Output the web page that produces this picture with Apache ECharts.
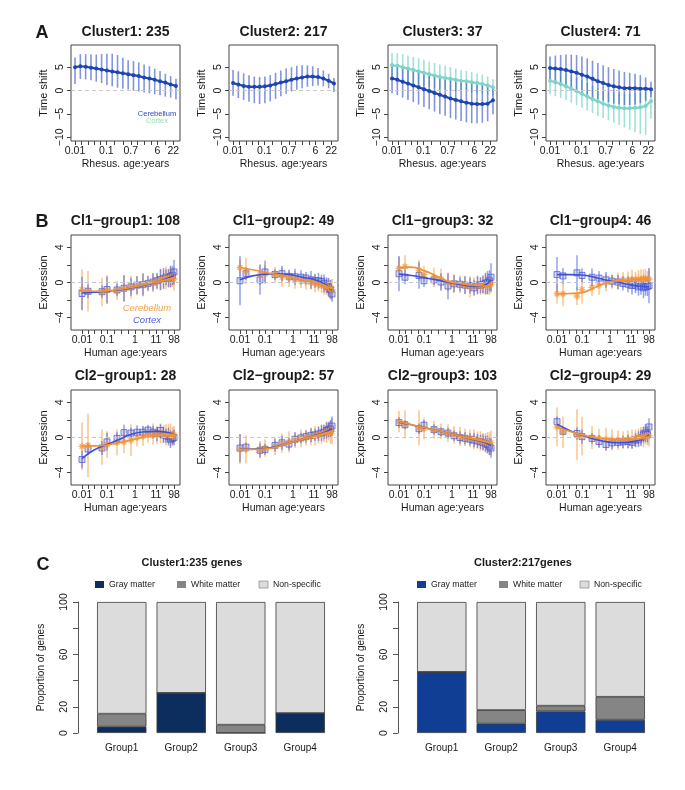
<!DOCTYPE html>
<html><head><meta charset="utf-8">
<script src="https://cdn.jsdelivr.net/npm/echarts@6/dist/echarts.min.js"></script>
<style>html,body{margin:0;padding:0;background:#fff}#c{width:685px;height:790px}</style>
</head><body><div id="c"></div><script>
// ---------------- Panel A (rhesus time shift) ----------------
const aX = [0,1,2,3,4,5,6,7,8,9,10,11,12,13,14,15,16,17,18,19];
const aTickPos = [0,1.2,2.4,3.6,4.8,5.9,7.4,9.0,10.5,11.8,13.0,14.3,15.5,17.0,18.5];
const aLabelPos = [0,5.9,10.5,15.5,18.5];
const aLabelText = ['0.01','0.1','0.7','6','22'];
const aTitles = ['Cluster1: 235','Cluster2: 217','Cluster3: 37','Cluster4: 71'];

const c1CbMean = [5.0,5.2,5.1,4.9,4.7,4.5,4.3,4.1,3.9,3.7,3.5,3.3,3.1,2.8,2.6,2.3,2.0,1.7,1.3,1.0];
const c1CbHi   = [7.1,7.8,7.8,7.7,7.7,7.8,7.9,7.9,7.6,7.0,6.5,6.3,6.0,5.6,5.2,4.7,4.2,3.6,3.1,2.5];
const c1CbLo   = [1.4,2.5,2.4,2.2,1.9,1.6,1.2,0.9,0.6,0.4,0.2,0.0,-0.2,-0.4,-0.6,-0.8,-1.0,-1.3,-1.5,-1.9];

const c2CbMean = [1.6,1.3,1.0,0.8,0.8,0.8,0.9,1.1,1.4,1.7,2.0,2.3,2.6,2.8,3.0,3.0,2.9,2.6,2.1,1.5];
const c2CbHi   = [4.4,4.1,3.7,3.3,3.0,2.9,3.0,3.3,3.8,4.3,4.7,5.0,5.3,5.4,5.4,5.2,4.8,4.3,3.6,2.7];
const c2CbLo   = [-1.1,-1.6,-2.0,-2.4,-2.7,-2.9,-2.7,-2.3,-1.8,-1.2,-0.7,-0.2,0.2,0.5,0.8,1.0,1.1,0.9,0.5,-0.3];

const c3CtxMean = [5.4,5.3,5.0,4.7,4.4,4.1,3.8,3.5,3.2,2.9,2.7,2.5,2.3,2.1,2.0,1.8,1.6,1.4,1.1,0.7];
const c3CtxHi   = [8.0,8.0,7.8,7.5,7.2,6.9,6.6,6.2,5.9,5.6,5.3,5.0,4.7,4.4,4.2,4.0,3.7,3.4,3.0,2.4];
const c3CtxLo   = [2.8,2.6,2.2,1.9,1.6,1.3,1.0,0.8,0.5,0.2,0.1,0.0,-0.1,-0.2,-0.2,-0.4,-0.5,-0.6,-0.8,-1.0];
const c3CbMean  = [2.6,2.3,1.9,1.5,1.1,0.7,0.3,-0.1,-0.5,-0.9,-1.3,-1.7,-2.0,-2.3,-2.6,-2.8,-2.9,-2.9,-2.8,-2.1];
const c3CbHi    = [5.8,5.6,5.3,5.0,4.7,4.4,4.1,3.8,3.5,3.2,2.8,2.5,2.2,1.9,1.6,1.4,1.2,1.1,1.0,0.9];
const c3CbLo    = [-0.6,-1.0,-1.5,-2.0,-2.5,-3.0,-3.5,-4.0,-4.5,-5.0,-5.4,-5.9,-6.2,-6.5,-6.8,-7.0,-7.0,-6.9,-6.6,-5.1];

const c4CbMean  = [4.8,4.7,4.6,4.4,4.1,3.8,3.4,3.0,2.5,2.0,1.6,1.2,0.9,0.7,0.5,0.5,0.5,0.4,0.4,0.3];
const c4CbHi    = [7.3,7.5,7.6,7.7,7.7,7.6,7.3,6.9,6.4,5.9,5.4,5.0,4.6,4.3,4.0,3.8,3.6,3.3,2.8,1.9];
const c4CbLo    = [2.0,1.8,1.5,1.1,0.6,0.1,-0.4,-0.9,-1.4,-1.8,-2.2,-2.5,-2.8,-3.0,-3.1,-3.1,-3.0,-2.7,-2.2,-1.4];
const c4CtxMean = [2.1,1.8,1.4,0.9,0.4,-0.1,-0.7,-1.3,-1.8,-2.3,-2.8,-3.2,-3.5,-3.7,-3.8,-3.8,-3.7,-3.6,-3.3,-2.3];
const c4CtxHi   = [5.0,4.7,4.3,3.8,3.3,2.8,2.2,1.6,1.0,0.5,0.1,-0.2,-0.4,-0.6,-0.6,-0.6,-0.5,-0.4,-0.2,0.4];
const c4CtxLo   = [-0.8,-1.2,-1.6,-2.1,-2.6,-3.1,-3.7,-4.3,-4.8,-5.4,-5.9,-6.4,-6.9,-7.4,-7.9,-8.4,-8.9,-9.3,-9.5,-6.0];

// ---------------- Panel B (human expression) ----------------
const bX = [-2.0,-1.76,-1.2,-1.0,-0.6,-0.32,-0.04,0.2,0.44,0.64,0.84,1.0,1.14,1.26,1.36,1.46,1.54,1.62,1.68];
const bFitX = [-2.0,-1.5,-1.0,-0.5,0.0,0.5,1.0,1.4,1.68];
const bTickPos = [-2,-1.75,-1.5,-1.25,-1,-0.72,-0.44,-0.16,0.12,0.4,0.68,0.96,1.2,1.44,1.68];
const bLabelPos = [-2,-1,0.12,0.96,1.68];
const bLabelText = ['0.01','0.1','1','11','98'];
const bTitles = ['Cl1\u2212group1: 108','Cl1\u2212group2: 49','Cl1\u2212group3: 32','Cl1\u2212group4: 46',
                 'Cl2\u2212group1: 28','Cl2\u2212group2: 57','Cl2\u2212group3: 103','Cl2\u2212group4: 29'];

const b1Ctx = [-1.25,-1.0,-1.05,-0.8,-0.85,-0.65,-0.5,-0.3,-0.25,-0.1,0.05,0.2,0.35,0.45,0.6,0.5,0.7,0.8,1.2];
const b1Cb  = [-0.8,-1.0,-1.1,-0.9,-0.9,-0.7,-0.5,-0.35,-0.2,-0.1,0.0,0.1,0.3,0.4,0.5,0.5,0.6,0.5,0.4];
const b1CtxErr = [1.9,0.8,0.7,1.6,0.7,1.5,1.0,1.0,1.3,0.8,1.0,0.9,1.2,1.2,0.9,1.0,1.2,1.1,1.4];
const b1CbErr  = [2.3,2.3,1.6,1.5,1.1,1.5,1.3,1.1,1.2,0.9,1.1,0.9,1.2,1.0,1.3,1.1,1.2,1.0,1.3];
const b1CtxFit = [-1.2,-1.1,-1.0,-0.85,-0.6,-0.3,0.05,0.45,0.8];
const b1CbFit  = [-0.95,-1.0,-0.95,-0.8,-0.55,-0.25,0.05,0.35,0.55];

const b2Ctx = [0.2,1.0,0.3,1.2,0.9,1.0,0.7,0.65,0.6,0.5,0.3,0.2,0.2,0.1,-0.1,-0.3,-0.5,-0.8,-1.3];
const b2Cb  = [1.7,1.3,0.9,0.95,0.9,0.6,0.5,0.3,0.15,0.1,0.0,-0.1,-0.2,-0.3,-0.4,-0.5,-0.6,-0.7,-0.8];
const b2CtxErr = [2.8,0.7,1.7,1.3,0.6,0.9,0.7,0.9,0.8,0.7,1.0,0.8,0.9,0.8,1.0,0.9,1.0,1.1,0.9];
const b2CbErr  = [1.0,1.5,1.2,1.0,0.9,1.1,1.0,1.0,0.8,0.9,0.8,1.0,0.8,0.9,1.0,0.9,1.1,1.0,1.2];
const b2CtxFit = [0.3,0.75,0.95,1.0,0.9,0.6,0.3,-0.2,-0.9];
const b2CbFit  = [1.7,1.45,1.15,0.9,0.65,0.35,0.05,-0.35,-0.75];

const b3Ctx = [1.0,0.6,0.8,0.2,0.3,0.05,-0.4,-0.15,-0.2,-0.3,-0.35,-0.6,-0.3,-0.3,-0.2,-0.1,0.0,0.2,0.6];
const b3Cb  = [1.6,1.8,1.4,0.9,0.6,0.4,0.0,-0.1,-0.2,-0.3,-0.5,-0.4,-0.3,-0.4,-0.3,-0.2,-0.4,-0.3,-0.2];
const b3CtxErr = [2.0,0.8,1.5,0.7,0.6,1.0,1.5,1.0,0.8,1.0,0.9,0.9,1.0,0.9,1.0,1.2,1.3,1.2,1.6];
const b3CbErr  = [1.3,1.3,1.2,1.0,1.1,1.2,1.0,1.0,1.0,1.0,1.2,1.0,1.1,1.0,1.0,1.2,1.0,1.1,1.0];
const b3CtxFit = [0.95,0.8,0.55,0.3,0.0,-0.25,-0.45,-0.35,0.3];
const b3CbFit  = [1.65,1.75,1.35,0.75,0.1,-0.15,-0.35,-0.4,-0.3];

const b4Ctx = [0.9,0.75,1.1,0.8,0.6,0.5,0.3,0.15,0.05,-0.1,-0.2,-0.35,-0.3,-0.5,-0.4,-0.6,-0.5,-0.45,-0.35];
const b4Cb  = [-1.3,-1.3,-1.55,-0.8,-0.55,-0.3,0.0,0.1,0.15,0.3,0.25,0.35,0.3,0.4,0.3,0.5,0.4,0.3,0.4];
const b4CtxErr = [2.0,0.9,2.0,0.8,1.0,0.8,0.9,0.7,0.8,0.8,0.9,1.0,0.9,1.0,1.0,1.2,1.0,1.1,2.0];
const b4CbErr  = [1.1,1.4,1.0,1.6,1.0,1.1,1.0,0.8,1.0,0.9,1.0,1.1,0.9,1.0,1.2,1.0,1.1,1.0,1.2];
const b4CtxFit = [0.9,0.9,0.85,0.6,0.25,0.0,-0.3,-0.45,-0.5];
const b4CbFit  = [-1.3,-1.25,-1.15,-0.6,0.0,0.2,0.3,0.4,0.4];

const b5Ctx = [-2.5,-1.3,-1.2,-0.5,-0.1,0.55,0.5,0.6,0.6,0.85,0.6,0.4,0.8,0.3,0.2,0.1,-0.2,-0.1,0.0];
const b5Cb  = [-1.0,-0.9,-1.1,-0.8,-0.55,-0.5,-0.3,0.0,0.15,0.3,0.4,0.3,0.5,0.4,0.3,0.4,0.3,0.2,0.3];
const b5CtxErr = [1.0,0.6,0.8,1.0,0.7,0.9,0.6,0.8,0.7,0.6,0.7,0.8,0.7,0.9,0.8,1.0,1.0,0.8,0.9];
const b5CbErr  = [2.7,3.6,2.0,1.5,1.5,1.3,1.8,1.0,1.1,0.9,1.2,1.0,1.1,1.0,1.2,1.1,1.3,1.0,1.0];
const b5CtxFit = [-2.4,-1.4,-0.8,-0.2,0.4,0.65,0.7,0.6,0.4];
const b5CbFit  = [-1.0,-0.95,-0.85,-0.6,-0.25,0.05,0.25,0.35,0.35];

const b6Ctx = [-1.2,-1.1,-1.45,-1.35,-0.9,-0.6,-0.75,-0.2,-0.05,0.1,0.25,0.3,0.4,0.5,0.6,0.8,0.9,1.0,1.3];
const b6Cb  = [-1.35,-1.35,-1.4,-1.2,-1.0,-0.65,-0.5,-0.3,-0.1,0.0,0.1,0.2,0.3,0.4,0.5,0.6,0.7,0.6,0.7];
const b6CtxErr = [1.6,0.5,0.8,0.6,0.7,0.8,0.7,0.8,0.6,0.7,0.8,0.7,0.8,0.9,0.8,0.9,0.9,1.0,1.1];
const b6CbErr  = [1.7,1.6,1.0,1.0,1.0,1.1,1.2,0.9,1.0,0.9,1.0,1.1,1.0,1.1,1.0,1.2,1.0,1.3,1.5];
const b6CtxFit = [-1.3,-1.3,-1.25,-1.0,-0.6,-0.2,0.25,0.6,1.0];
const b6CbFit  = [-1.35,-1.35,-1.3,-1.05,-0.6,-0.2,0.2,0.5,0.75];

const b7Ctx = [1.7,1.45,1.0,1.4,0.9,0.65,0.5,0.2,0.0,-0.1,-0.2,-0.3,-0.4,-0.5,-0.55,-0.7,-0.8,-1.0,-1.2];
const b7Cb  = [1.8,1.5,1.1,1.0,0.9,0.7,0.5,0.3,0.1,0.0,-0.1,-0.2,-0.3,-0.4,-0.5,-0.6,-0.6,-0.7,-0.6];
const b7CtxErr = [0.6,0.5,0.6,0.6,0.6,0.5,0.6,0.6,0.7,0.7,0.7,0.8,0.8,0.8,0.9,0.9,1.0,1.0,1.1];
const b7CbErr  = [1.2,1.6,2.0,1.2,1.0,0.9,1.0,1.0,1.1,1.0,1.0,1.1,1.0,1.1,1.0,1.1,1.2,1.3,1.4];
const b7CtxFit = [1.75,1.45,1.1,0.8,0.45,0.1,-0.25,-0.55,-0.9];
const b7CbFit  = [1.8,1.45,1.1,0.8,0.45,0.1,-0.2,-0.45,-0.65];

const b8Ctx = [1.8,0.7,0.45,0.1,-0.1,-0.45,-0.8,-0.6,-0.55,-0.5,-0.45,-0.55,-0.3,-0.2,0.0,0.3,0.5,0.35,1.2];
const b8Cb  = [1.2,0.6,0.3,0.15,0.0,-0.1,-0.2,-0.3,-0.3,-0.3,-0.2,-0.2,-0.1,0.0,0.1,0.1,0.2,0.2,0.2];
const b8CtxErr = [0.6,0.4,0.7,0.8,0.6,0.7,0.7,0.7,0.6,0.7,0.8,0.7,0.8,0.9,0.9,0.9,1.0,0.9,1.0];
const b8CbErr  = [2.2,1.8,2.9,2.2,1.3,1.1,1.3,1.2,1.1,1.0,1.0,1.1,1.0,1.0,1.1,1.2,1.0,1.1,1.2];
const b8CtxFit = [1.5,0.8,0.25,-0.2,-0.5,-0.6,-0.5,-0.2,0.3];
const b8CbFit  = [1.2,0.7,0.3,0.0,-0.15,-0.2,-0.2,-0.1,0.1];

// ---------------- Panel C (proportions) ----------------
const cGroups = ['Group1','Group2','Group3','Group4'];
const cTitles = ['Cluster1:235 genes','Cluster2:217genes'];
const cLegend = ['Gray matter','White matter','Non-specific'];
const cl1Gray  = [4.8,30.6,0,15.2];
const cl1White = [9.9,0,6.3,0];
const cl1Non   = [85.3,69.4,93.7,84.8];
const cl2Gray  = [46.6,7.1,16.5,10.1];
const cl2White = [0,10.4,4.3,17.5];
const cl2Non   = [53.4,82.5,79.2,72.4];

// ---------------- build ----------------
const FONT = 'Liberation Sans, Arial, Helvetica, sans-serif';
const TXT = '#1a1a1a';
const colL = [71, 229, 388, 546];
const boxW = 109;
const A_BLUE = '#1f45b0', A_BLUE_E = 'rgba(45,80,195,0.6)';
const A_TURQ = '#7fd3c8', A_TURQ_E = 'rgba(120,212,200,0.7)';
const B_ORG = '#f39232', B_ORG_E = 'rgba(245,150,50,0.55)';
const B_BLU = '#3a52da', B_BLU_E = 'rgba(60,85,220,0.55)';

const grids = [], xAxes = [], yAxes = [], series = [], graphics = [];
function fmtMinus(v){ return String(v).replace('-', '\u2212'); }
function labelFrom(pos, txt){ return v => { const i = pos.findIndex(p => Math.abs(p - v) < 1e-6); return i >= 0 ? txt[i] : ''; }; }

function addText(text, x, y, size, opts){
  graphics.push({type:'text', x:x, y:y, silent:true, style:Object.assign({text:text, fill:TXT, font:(opts&&opts.weight?opts.weight+' ':'')+(opts&&opts.italic?'italic ':'')+size+'px '+FONT, textAlign:'center', textVerticalAlign:'middle'}, opts&&opts.style||{})});
}
function errSeries(gi, xs, lo, hi, color, w){
  return {type:'custom', xAxisIndex:gi, yAxisIndex:gi, silent:true, z:2,
    data: xs.map((x,i)=>[x, lo[i], hi[i]]), encode:{x:0, y:[1,2]},
    renderItem:(p, api)=>{ const a = api.coord([api.value(0), api.value(1)]); const b = api.coord([api.value(0), api.value(2)]);
      return {type:'line', shape:{x1:a[0], y1:a[1], x2:b[0], y2:b[1]}, style:{stroke:color, lineWidth:w}}; }};
}
function zeroLine(gi, color){
  return {type:'line', xAxisIndex:gi, yAxisIndex:gi, data:[], silent:true, z:1,
    markLine:{silent:true, symbol:['none','none'], label:{show:false}, animation:false,
      lineStyle:{type:[4,3], color:color, width:1}, data:[{yAxis:0}]}};
}
function baseX(gi, min, max, tickPos, labPos, labTxt, name, margin, nameGap){
  return {gridIndex:gi, type:'value', position:'bottom', min:min, max:max, axisLine:{show:false, onZero:false}, splitLine:{show:false},
    axisTick:{show:true, length:4, customValues:tickPos, lineStyle:{color:'#444'}},
    axisLabel:{customValues:labPos, formatter:labelFrom(labPos, labTxt), fontSize:10.5, color:TXT, fontFamily:FONT, margin:margin},
    name:name, nameLocation:'middle', nameGap:nameGap, nameTextStyle:{fontSize:10.5, color:TXT, fontFamily:FONT}};
}
function baseY(gi, min, max, tickPos, labPos, name){
  return {gridIndex:gi, type:'value', position:'left', min:min, max:max, axisLine:{show:false, onZero:false}, splitLine:{show:false},
    axisTick:{show:true, length:4, customValues:tickPos, lineStyle:{color:'#444'}},
    axisLabel:{customValues:labPos, formatter:fmtMinus, rotate:90, fontSize:10.5, color:TXT, fontFamily:FONT, margin:5},
    name:name, nameLocation:'middle', nameRotate:90, nameGap:22, nameTextStyle:{fontSize:11, color:TXT, fontFamily:FONT}};
}

// Panel A
const aData = [
  {cb:[c1CbMean,c1CbLo,c1CbHi]},
  {cb:[c2CbMean,c2CbLo,c2CbHi]},
  {cb:[c3CbMean,c3CbLo,c3CbHi], ctx:[c3CtxMean,c3CtxLo,c3CtxHi]},
  {cb:[c4CbMean,c4CbLo,c4CbHi], ctx:[c4CtxMean,c4CtxLo,c4CtxHi]}
];
aData.forEach((d, k) => {
  const gi = k;
  grids.push({left:colL[k], top:45, width:boxW, height:96, show:true, borderColor:'#444', borderWidth:1, backgroundColor:'transparent'});
  xAxes.push(baseX(gi, -0.76, 19.76, aTickPos, aLabelPos, aLabelText, 'Rhesus. age:years', 5, 18));
  yAxes.push(baseY(gi, -10.8, 9.75, [-10,-5,0,5], [-10,-5,0,5], 'Time shift'));
  series.push(zeroLine(gi, '#c9c9c9'));
  if (d.ctx) series.push(errSeries(gi, aX, d.ctx[1], d.ctx[2], A_TURQ_E, 1.6));
  series.push(errSeries(gi, aX, d.cb[1], d.cb[2], A_BLUE_E, 1.6));
  if (d.ctx) series.push({type:'line', xAxisIndex:gi, yAxisIndex:gi, z:4, silent:true, data:aX.map((x,i)=>[x,d.ctx[0][i]]),
    symbol:'circle', symbolSize:4, itemStyle:{color:A_TURQ}, lineStyle:{color:A_TURQ, width:2.2}});
  series.push({type:'line', xAxisIndex:gi, yAxisIndex:gi, z:5, silent:true, data:aX.map((x,i)=>[x,d.cb[0][i]]),
    symbol:'circle', symbolSize:4, itemStyle:{color:A_BLUE}, lineStyle:{color:A_BLUE, width:2.2}});
  addText(aTitles[k], colL[k] + boxW/2, 32, 14, {weight:'bold'});
});
addText('Cerebellum', 157, 114, 7.5, {style:{fill:'#2a4bbf'}});
addText('Cortex', 157, 121, 7.5, {style:{fill:'#8fe3b0'}});
addText('A', 42, 33, 18, {weight:'bold'});

// Panel B
const STAR = 'path://M0,5L10,5M5,0L5,10M1.6,1.6L8.4,8.4M8.4,1.6L1.6,8.4';
const bData = [
  [b1Ctx,b1CtxErr,b1CtxFit,b1Cb,b1CbErr,b1CbFit],
  [b2Ctx,b2CtxErr,b2CtxFit,b2Cb,b2CbErr,b2CbFit],
  [b3Ctx,b3CtxErr,b3CtxFit,b3Cb,b3CbErr,b3CbFit],
  [b4Ctx,b4CtxErr,b4CtxFit,b4Cb,b4CbErr,b4CbFit],
  [b5Ctx,b5CtxErr,b5CtxFit,b5Cb,b5CbErr,b5CbFit],
  [b6Ctx,b6CtxErr,b6CtxFit,b6Cb,b6CbErr,b6CbFit],
  [b7Ctx,b7CtxErr,b7CtxFit,b7Cb,b7CbErr,b7CbFit],
  [b8Ctx,b8CtxErr,b8CtxFit,b8Cb,b8CbErr,b8CbFit]
];
const bTops = [235, 390];
bData.forEach((d, k) => {
  const gi = 4 + k, row = Math.floor(k/4), col = k % 4;
  grids.push({left:colL[col], top:bTops[row], width:boxW, height:95, show:true, borderColor:'#444', borderWidth:1, backgroundColor:'transparent'});
  xAxes.push(baseX(gi, -2.44, 1.92, bTickPos, bLabelPos, bLabelText, 'Human age:years', 5, 18));
  yAxes.push(baseY(gi, -5.4, 5.4, [-4,-2,0,2,4], [-4,0,4], 'Expression'));
  series.push(zeroLine(gi, '#bfcad6'));
  const [ctx, ctxE, ctxF, cb, cbE, cbF] = d;
  series.push(errSeries(gi, bX, cb.map((v,i)=>v-cbE[i]), cb.map((v,i)=>v+cbE[i]), B_ORG_E, 1.5));
  series.push(errSeries(gi, bX, ctx.map((v,i)=>v-ctxE[i]), ctx.map((v,i)=>v+ctxE[i]), B_BLU_E, 1.5));
  series.push({type:'scatter', xAxisIndex:gi, yAxisIndex:gi, z:3, silent:true, data:bX.map((x,i)=>[x,ctx[i]]),
    symbol:'rect', symbolSize:6, itemStyle:{color:'rgba(150,140,210,0.45)', borderColor:'rgba(58,82,218,0.85)', borderWidth:1}});
  series.push({type:'scatter', xAxisIndex:gi, yAxisIndex:gi, z:3, silent:true, data:bX.map((x,i)=>[x,cb[i]]),
    symbol:STAR, symbolSize:7, itemStyle:{color:'rgba(0,0,0,0)', borderColor:'rgba(243,146,50,0.9)', borderWidth:1.3}});
  series.push({type:'line', xAxisIndex:gi, yAxisIndex:gi, z:5, silent:true, smooth:0.4, showSymbol:false,
    data:bFitX.map((x,i)=>[x,ctxF[i]]), lineStyle:{color:B_BLU, width:1.6}});
  series.push({type:'line', xAxisIndex:gi, yAxisIndex:gi, z:6, silent:true, smooth:0.4, showSymbol:false,
    data:bFitX.map((x,i)=>[x,cbF[i]]), lineStyle:{color:B_ORG, width:1.6}});
  addText(bTitles[k], colL[col] + boxW/2, row === 0 ? 221 : 376, 14, {weight:'bold'});
});
addText('Cerebellum', 147, 308, 9.5, {italic:true, style:{fill:'#f5a04a'}});
addText('Cortex', 147, 320, 9.5, {italic:true, style:{fill:'#4a5fe0'}});
addText('B', 42, 222, 18, {weight:'bold'});

// Panel C
const cSets = [
  {left:92, gray:cl1Gray, white:cl1White, non:cl1Non, grayColor:'#0b2e5e', title:192, legX:[95,177,259]},
  {left:412, gray:cl2Gray, white:cl2White, non:cl2Non, grayColor:'#0f3e94', title:523, legX:[417,499,580]}
];
cSets.forEach((c, k) => {
  const gi = 12 + k;
  grids.push({left:c.left, top:602, width:238, height:131});
  xAxes.push({gridIndex:gi, type:'category', data:cGroups, axisLine:{show:false}, axisTick:{show:false},
    axisLabel:{fontSize:10, color:TXT, fontFamily:FONT, margin:10}});
  yAxes.push({gridIndex:gi, type:'value', min:0, max:100, offset:14, splitLine:{show:false},
    axisLine:{show:true, onZero:false, lineStyle:{color:'#555'}},
    axisTick:{show:true, length:5, customValues:[0,20,40,60,80,100], lineStyle:{color:'#555'}},
    axisLabel:{customValues:[0,20,60,100], rotate:90, fontSize:10.5, color:TXT, fontFamily:FONT, margin:8},
    name:'Proportion of genes', nameLocation:'middle', nameRotate:90, nameGap:32, nameTextStyle:{fontSize:10, color:TXT, fontFamily:FONT}});
  const mk = (name, vals, color) => ({type:'bar', name:name, stack:'s'+k, xAxisIndex:gi, yAxisIndex:gi, data:vals, silent:true,
    barCategoryGap:'17%', itemStyle:{color:color, borderColor:'#3a3a3a', borderWidth:0.8}});
  series.push(mk(cLegend[0], c.gray, c.grayColor));
  series.push(mk(cLegend[1], c.white, '#858585'));
  series.push(mk(cLegend[2], c.non, '#dcdcdc'));
  addText(cTitles[k], c.title, 563, 11, {weight:'bold'});
  const legColors = [c.grayColor, '#858585', '#dcdcdc'];
  cLegend.forEach((t, j) => {
    graphics.push({type:'rect', shape:{x:c.legX[j], y:581, width:9, height:7}, silent:true,
      style:{fill:legColors[j], stroke: j===2 ? '#777' : null, lineWidth:0.6}});
    graphics.push({type:'text', x:c.legX[j] + 14, y:585, silent:true,
      style:{text:t, fill:TXT, font:'8.7px '+FONT, textAlign:'left', textVerticalAlign:'middle'}});
  });
});
addText('C', 43, 565, 18, {weight:'bold'});

const chart = echarts.init(document.getElementById('c'), null, {renderer:'canvas'});
chart.setOption({animation:false, backgroundColor:'#fff', grid:grids, xAxis:xAxes, yAxis:yAxes, series:series, graphic:graphics});
</script></body></html>
